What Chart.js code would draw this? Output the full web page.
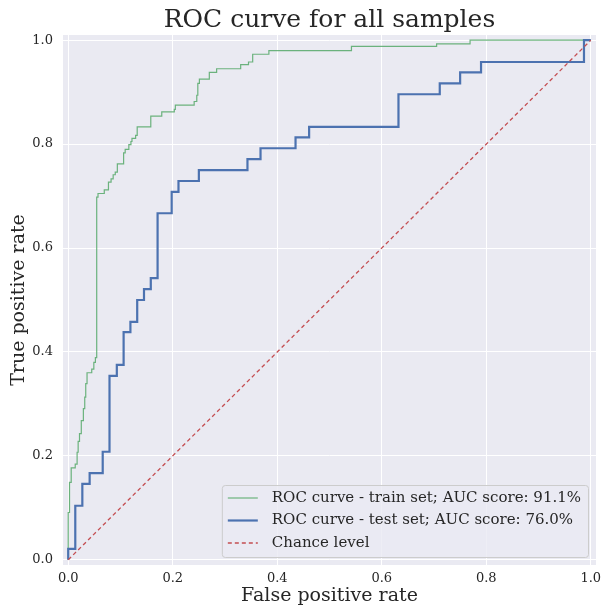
<!DOCTYPE html>
<html>
<head>
<meta charset="utf-8">
<script src="https://cdn.jsdelivr.net/npm/chart.js@4.4.1/dist/chart.umd.min.js"></script>
<style>
  html, body { margin: 0; padding: 0; background: #ffffff; }
</style>
</head>
<body>
<canvas id="roc-chart" width="603" height="607"></canvas>
<script>
// train set ROC: fpr where each rise happens, tpr reached after the rise
const trainFpr = [0, 0, 0.0025, 0.0057, 0.0134, 0.017, 0.019, 0.0216, 0.025, 0.029, 0.0316, 0.0335, 0.036,
  0.045, 0.049, 0.052, 0.0545, 0.057, 0.069, 0.077, 0.082, 0.086, 0.090, 0.094, 0.106, 0.109, 0.116,
  0.120, 0.122, 0.129, 0.132, 0.158, 0.179, 0.203, 0.205, 0.241, 0.246, 0.248, 0.251, 0.270, 0.284,
  0.330, 0.345, 0.353, 0.384, 0.542, 0.705, 0.769, 1.0];
const trainTpr = [0, 0.091, 0.149, 0.177, 0.184, 0.207, 0.228, 0.243, 0.268, 0.291, 0.313, 0.339, 0.360,
  0.367, 0.380, 0.389, 0.698, 0.705, 0.712, 0.727, 0.733, 0.741, 0.746, 0.762, 0.783, 0.790, 0.799,
  0.805, 0.811, 0.817, 0.833, 0.854, 0.862, 0.867, 0.875, 0.882, 0.894, 0.917, 0.925, 0.938, 0.945,
  0.953, 0.958, 0.973, 0.980, 0.988, 0.993, 1.0, 1.0];

// test set ROC
const testFpr = [0, 0, 0.0135, 0.027, 0.041, 0.066, 0.079, 0.093, 0.106, 0.119, 0.132, 0.145, 0.158,
  0.171, 0.198, 0.211, 0.250, 0.343, 0.368, 0.435, 0.461, 0.632, 0.711, 0.750, 0.790, 0.987, 1.0];
const testTpr = [0, 0.021, 0.104, 0.146, 0.167, 0.208, 0.354, 0.375, 0.438, 0.458, 0.500, 0.521, 0.542,
  0.667, 0.708, 0.729, 0.750, 0.771, 0.792, 0.813, 0.833, 0.896, 0.917, 0.938, 0.958, 1.0, 1.0];

const chanceFpr = [0, 1];
const chanceTpr = [0, 1];

const axisTicks = [0, 0.2, 0.4, 0.6, 0.8, 1.0];
const seriesLabels = [
  "ROC curve - train set; AUC score: 91.1%",
  "ROC curve - test set; AUC score: 76.0%",
  "Chance level"
];

const FONT = "'DejaVu Serif', serif";
const TEXT_COLOR = "#262626";


function toPoints(xs, ys) {
  return xs.map((x, i) => ({ x: x, y: ys[i] }));
}


// grey plot background like seaborn darkgrid
const plotBackground = {
  id: "plotBackground",
  beforeDraw(chart) {
    const ctx = chart.ctx;
    const a = chart.chartArea;
    ctx.save();
    ctx.fillStyle = "#ffffff";
    ctx.fillRect(0, 0, chart.width, chart.height);
    ctx.fillStyle = "#eaeaf2";
    ctx.fillRect(a.left, a.top, a.right - a.left, a.bottom - a.top);
    ctx.restore();
  }
};


// legend box in lower right corner of the plot
const cornerLegend = {
  id: "cornerLegend",
  afterDraw(chart) {
    const ctx = chart.ctx;
    const a = chart.chartArea;
    const sets = chart.data.datasets;
    const rowH = 22.5;
    ctx.save();
    ctx.font = "15px " + FONT;
    let textW = 0;
    sets.forEach(ds => { textW = Math.max(textW, ctx.measureText(ds.label).width); });
    const boxW = 6 + 30 + 14 + textW + 7;
    const boxH = 72;
    const x0 = a.right - 8 - boxW;
    const y0 = a.bottom - 8 - boxH;

    ctx.beginPath();
    ctx.roundRect(x0 + 0.5, y0 + 0.5, boxW, boxH, 3);
    ctx.fillStyle = "rgba(234,234,242,0.8)";
    ctx.fill();
    ctx.strokeStyle = "#cccccc";
    ctx.lineWidth = 1;
    ctx.stroke();

    sets.forEach((ds, i) => {
      const cy = y0 + 13 + i * rowH;
      ctx.beginPath();
      ctx.setLineDash(ds.borderDash || []);
      ctx.strokeStyle = ds.borderColor;
      ctx.lineWidth = ds.borderWidth;
      ctx.moveTo(x0 + 6, cy);
      ctx.lineTo(x0 + 36, cy);
      ctx.stroke();
      ctx.setLineDash([]);
      ctx.fillStyle = TEXT_COLOR;
      ctx.textBaseline = "middle";
      ctx.textAlign = "left";
      ctx.fillText(ds.label, x0 + 50, cy);
    });
    ctx.restore();
  }
};


function axisOptions(titleText, isX) {
  return {
    type: "linear",
    min: -0.01,
    max: 1.01,
    afterBuildTicks(scale) {
      scale.ticks = axisTicks.map(v => ({ value: v }));
    },
    afterFit(scale) {
      if (isX) scale.height = 42;
      else scale.width = 63;
      // no extra room for overhanging tick labels
      scale.paddingLeft = 0;
      scale.paddingRight = 0;
      scale.paddingTop = 0;
      scale.paddingBottom = 0;
    },
    grid: { color: "#ffffff", lineWidth: 1, drawTicks: false },
    border: { display: false },
    ticks: {
      color: TEXT_COLOR,
      font: { family: FONT, size: 13 },
      padding: isX ? 6 : 10,
      callback: v => v.toFixed(1)
    },
    title: {
      display: true,
      text: titleText,
      color: TEXT_COLOR,
      font: { family: FONT, size: 19 },
      padding: isX ? { top: 0, bottom: 0 } : { top: 8, bottom: 0 }
    }
  };
}


new Chart(document.getElementById("roc-chart"), {
  type: "line",
  data: {
    datasets: [
      {
        label: seriesLabels[0],
        data: toPoints(trainFpr, trainTpr),
        borderColor: "rgba(85,168,104,0.85)",
        borderWidth: 1.2,
        stepped: "before",
        pointRadius: 0,
        order: 3
      },
      {
        label: seriesLabels[1],
        data: toPoints(testFpr, testTpr),
        borderColor: "#4c72b0",
        borderWidth: 2.2,
        stepped: "before",
        pointRadius: 0,
        order: 2
      },
      {
        label: seriesLabels[2],
        data: toPoints(chanceFpr, chanceTpr),
        borderColor: "#c44e52",
        borderWidth: 1.3,
        borderDash: [4, 3],
        pointRadius: 0,
        order: 1
      }
    ]
  },
  options: {
    responsive: false,
    animation: false,
    devicePixelRatio: 1,
    layout: { padding: { left: 0, right: 7, top: 0, bottom: 0 } },
    scales: {
      x: axisOptions("False positive rate", true),
      y: axisOptions("True positive rate", false)
    },
    plugins: {
      legend: { display: false },
      tooltip: { enabled: false },
      title: {
        display: true,
        fullSize: false,
        text: "ROC curve for all samples",
        color: TEXT_COLOR,
        font: { family: FONT, size: 25, weight: "normal" },
        padding: { top: 5, bottom: 0 }
      }
    }
  },
  plugins: [plotBackground, cornerLegend]
});
</script>
</body>
</html>
